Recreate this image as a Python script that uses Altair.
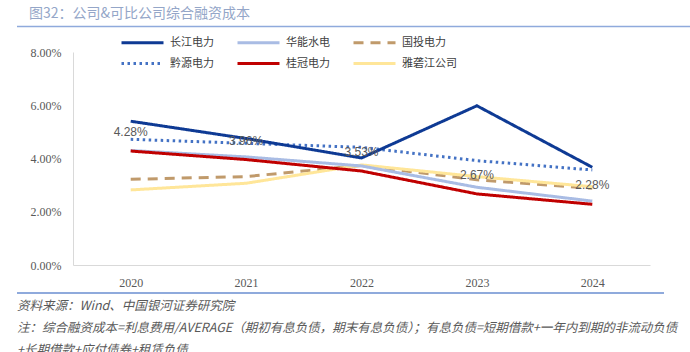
import altair as alt
import pandas as pd

years = ["2020", "2021", "2022", "2023", "2024"]
series_names = ["长江电力", "华能水电", "国投电力", "黔源电力", "桂冠电力", "雅砻江公司"]
cjdl = [5.40, 4.75, 4.02, 5.98, 3.67]
hnsd = [4.30, 4.06, 3.72, 2.92, 2.40]
gtdl = [3.22, 3.32, 3.74, 3.20, 2.88]
qydl = [4.72, 4.57, 4.42, 3.92, 3.57]
ggdl = [4.28, 3.96, 3.53, 2.67, 2.28]
ylj = [2.82, 3.07, 3.76, 3.32, 2.94]
colors = ["#0E3A94", "#A9BCE4", "#C09A6B", "#4472C4", "#C00000", "#FFE699"]
dashes = [[1, 0], [1, 0], [10, 7], [2.5, 3.5], [1, 0], [1, 0]]

title_text = "图32：公司&可比公司综合融资成本"
source_text = "资料来源：Wind、中国银河证券研究院"
note_text1 = "注：综合融资成本=利息费用/AVERAGE（期初有息负债，期末有息负债）；有息负债=短期借款+一年内到期的非流动负债"
note_text2 = "+长期借款+应付债券+租赁负债"

values_by_series = {
    "长江电力": cjdl, "华能水电": hnsd, "国投电力": gtdl,
    "黔源电力": qydl, "桂冠电力": ggdl, "雅砻江公司": ylj,
}
draw_order = ["国投电力", "雅砻江公司", "华能水电", "桂冠电力", "黔源电力", "长江电力"]
rows = []
for k, name in enumerate(draw_order):
    for y, v in zip(years, values_by_series[name]):
        rows.append({"year": y, "series": name, "value": v / 100, "ord": k})
df = pd.DataFrame(rows)
lab_df = pd.DataFrame({"year": years, "value": [v / 100 for v in ggdl]})

CJK = "Noto Sans CJK SC"
GRAY = "#595959"

legend = alt.Legend(
    title=None, orient="none", legendX=47, legendY=-18, columns=3,
    direction="horizontal", symbolType="M-1,0H5", symbolSize=196,
    symbolStrokeWidth=3, labelFont=CJK, labelFontSize=11, labelColor="#404040",
    columnPadding=17, rowPadding=6, labelOffset=33, padding=0, labelLimit=200,
)

x_enc = alt.X("year:O", scale=alt.Scale(type="point", padding=0.5),
              axis=alt.Axis(title=None, labelAngle=0, ticks=False, domainColor="#D9D9D9",
                            labelFont="Liberation Serif", labelFontSize=12,
                            labelColor=GRAY, labelPadding=12))
y_enc = alt.Y("value:Q", scale=alt.Scale(domain=[0, 0.08]),
              axis=alt.Axis(title=None, values=[0, 0.02, 0.04, 0.06, 0.08], format=".2%",
                            grid=False, ticks=False, domainColor="#D9D9D9",
                            labelFont="Liberation Serif", labelFontSize=12,
                            labelColor=GRAY, labelPadding=12))

lines = alt.Chart(df).mark_line(strokeWidth=3, strokeCap="butt", strokeJoin="miter").encode(
    x=x_enc, y=y_enc,
    color=alt.Color("series:N", scale=alt.Scale(domain=series_names, range=colors), legend=legend),
    strokeDash=alt.StrokeDash("series:N", scale=alt.Scale(domain=series_names, range=dashes), legend=legend),
    order=alt.Order("ord:Q"),
)

labels = alt.Chart(lab_df).mark_text(dy=-19, font="Liberation Sans", fontSize=12, color=GRAY).encode(
    x="year:O", y="value:Q", text=alt.Text("value:Q", format=".2%"),
)

one = pd.DataFrame({"a": [0]})

def txt(s, x, y, size, color, italic=False, font=CJK):
    kw = dict(align="left", baseline="middle", font=font, fontSize=size, color=color)
    if italic:
        kw["fontStyle"] = "italic"
    return alt.Chart(one).mark_text(**kw).encode(
        x=alt.value(x), y=alt.value(y), text=alt.value(s))

title = txt(title_text, -44, -38, 14, "#94A6C8")
src = txt(source_text, -56, 254, 12.5, GRAY, italic=True)
n1 = txt(note_text1, -56, 276, 12.5, GRAY, italic=True)
n2 = txt(note_text2, -56, 298, 12.5, GRAY, italic=True)

rule_top = alt.Chart(one).mark_rule(color="#8FAADC", strokeWidth=1.5).encode(
    x=alt.value(-56), x2=alt.value(617), y=alt.value(-25.5))
rule_bot = alt.Chart(one).mark_rule(color="#8FAADC", strokeWidth=2).encode(
    x=alt.value(-56), x2=alt.value(591), y=alt.value(241))

chart = alt.layer(lines, labels, title, src, n1, n2, rule_top, rule_bot).properties(
    width=577, height=213,
    autosize=alt.AutoSizeParams(type="none"),
    padding={"left": 73, "top": 52, "right": 40, "bottom": 87},
    background="white",
).configure_view(stroke=None)

chart.save("out.html", embed_options={"renderer": "svg", "actions": False})
